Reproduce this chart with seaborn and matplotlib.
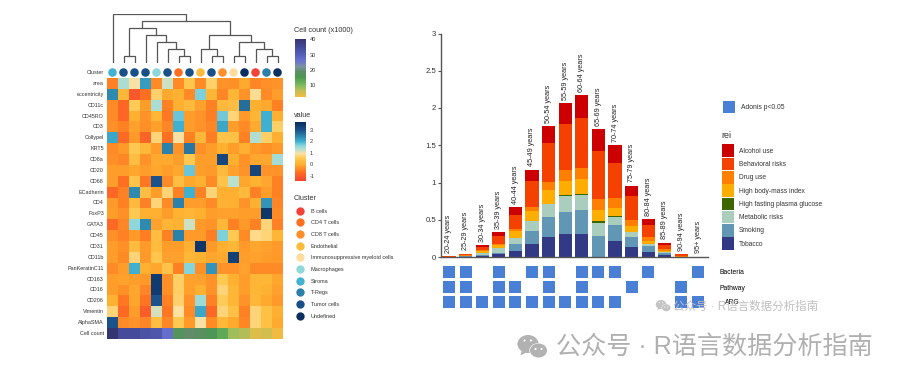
import numpy as np
import pandas as pd
import seaborn as sns
import matplotlib.pyplot as plt
from matplotlib.cm import ScalarMappable
from matplotlib.colors import LinearSegmentedColormap, Normalize
from matplotlib.lines import Line2D
from matplotlib.patches import Ellipse, Patch, Polygon

# heatmap data
markers = ['area', 'eccentricity', 'CD11c', 'CD45RO', 'CD3', 'Collypel', 'KRT5', 'CD8a', 'CD20',
           'CD68', 'ECadherin', 'CD4', 'FoxP3', 'GATA3', 'CD45', 'CD31', 'CD11b', 'PanKeratinC11',
           'CD163', 'CD16', 'CD206', 'Vimentin', 'AlphaSMA']
heat_values = [
    [-0.5, 1.4, 0.95, 2.2, -0.4, 1.2, -0.4, 0.45, -0.4, 0.65, -0.3, -0.35, -0.05, -0.45, -0.35, -0.3],
    [2.4, 0.15, -1.1, -0.7, 0.65, -0.05, 0.05, -0.4, 1.7, 0.1, -0.45, 0.1, -0.3, 0.85, -0.4, -0.2],
    [-0.4, -0.85, 0.55, -0.2, 1.4, -0.5, 0, 0.2, -0.15, -0.5, 0.2, 0.3, 2.7, 0, -0.05, -0.5],
    [-0.4, -0.85, 0, -0.3, 0.1, -0.6, 1.8, -0.2, -0.3, -0.55, 1.75, 0.7, -0.25, 0.1, 2, 0],
    [-0.35, -0.5, -0.15, -0.35, -0.15, -0.45, 2, -0.2, -0.3, -0.45, 2.1, -0.2, -0.4, -0.05, 2, 0.6],
    [2.1, -0.8, -0.25, -0.9, 0.7, -0.7, 0.95, -0.5, 0.15, -0.55, 0.4, 0.35, -0.5, 1.35, 0.6, 0],
    [-0.4, -0.25, 0.5, 0.15, -0.2, 2.5, -0.3, 2.6, -0.35, -0.2, 0, -0.2, 0, -0.25, -0.35, -0.25],
    [-0.35, -0.45, 0.3, -0.3, -0.05, -0.05, -0.2, 0.5, -0.2, -0.2, 3.2, 0, -0.3, -0.1, -0.1, 1.45],
    [-0.2, -0.2, -0.1, -0.2, -0.1, -0.2, -0.1, 1.8, -0.2, -0.25, 0.2, -0.15, -0.3, 3.2, -0.3, -0.3],
    [-0.2, -0.7, 0.4, -0.6, 3, -0.4, 0.3, -0.1, 0, -0.4, 0.4, 1.3, -0.1, 0.05, -0.1, -0.5],
    [-0.85, -0.5, 2.4, 0.3, -0.2, 0.7, -0.5, 2, -0.5, 0.7, 0, 0, 0.2, -0.5, -0.2, -0.5],
    [-0.25, -0.5, 0.2, -0.5, 0.7, -0.4, 2.5, -0.2, -0.2, -0.4, 0.05, 0, -0.3, 0, 2.3, -0.45],
    [-0.2, -0.35, 0.5, 0, 0, -0.2, 0.05, 0.1, 0, -0.2, -0.15, -0.15, -0.2, -0.2, 3.5, -0.4],
    [-0.8, -0.45, 1.6, 2.4, -0.15, 0.1, 0.05, 1.2, -0.25, -0.3, 0.15, -0.5, -0.25, -0.5, 0.7, -0.5],
    [-0.35, -0.5, -0.25, -0.55, 0.3, -0.5, 2.5, -0.25, -0.25, -0.55, 1.7, 0.5, -0.4, 0.8, 0.7, 0.1],
    [-0.2, -0.35, 0.25, -0.25, 0.25, -0.2, -0.2, 0, 3.5, -0.25, 0, 0.15, -0.25, -0.1, -0.15, -0.25],
    [-0.2, -0.4, 0.7, -0.25, 0.45, -0.15, -0.15, 0.15, 0.05, -0.1, -0.05, 3.3, -0.2, -0.15, -0.2, -0.25],
    [-0.4, -0.2, 2, 0, -0.1, 0.4, -0.5, 1.65, -0.35, 2.3, -0.3, -0.3, -0.15, -0.4, -0.4, -0.4],
    [-0.2, -0.15, -0.2, -0.25, 3.4, -0.35, 0.6, -0.15, -0.15, -0.3, 0.5, 0, -0.2, 0.1, 0.1, -0.1],
    [-0.2, -0.35, -0.1, -0.45, 3.4, -0.35, 0.6, -0.15, 0, -0.3, 0.7, 0.1, -0.2, 0.1, 0.05, -0.15],
    [0.05, -0.6, -0.1, -0.65, 3, -0.5, 0.65, -0.3, 1.5, -0.5, 0.55, 0.1, -0.3, 0.15, -0.05, -0.25],
    [0.7, -0.8, -0.2, -1, 1.15, -0.6, 0.9, -0.4, 2.1, -0.85, 0.7, 0.35, -0.5, 0.7, 0.35, 0],
    [3, -0.4, -0.3, -0.45, 0.3, -0.45, 0.5, -0.25, 0.95, -0.4, 0.15, -0.05, -0.45, 0.7, 0.35, -0.05],
]
cell_counts = [40, 35, 35, 33, 32, 27, 17, 19, 18, 16, 13, 8, 7, 4, 5, 2.5]

cluster_names = ['B cells', 'CD4 T cells', 'CD8 T cells', 'Endothelial', 'Immunosuppressive myeloid cells',
                 'Macrophages', 'Stroma', 'T-Regs', 'Tumor cells', 'Undefined']
cluster_colors = ['#F44336', '#FF6F20', '#FF8F2B', '#FFBB3B', '#FFDD9E',
                  '#8ED8DC', '#42B2D2', '#2A80A8', '#1A5088', '#0B2F60']
column_clusters = ['Stroma', 'Tumor cells', 'Tumor cells', 'Tumor cells', 'Macrophages', 'Tumor cells',
                   'CD4 T cells', 'Tumor cells', 'Endothelial', 'Tumor cells', 'CD8 T cells',
                   'Immunosuppressive myeloid cells', 'Undefined', 'B cells', 'T-Regs', 'Undefined']

# dendrogram as (height, left, right), leaves are column numbers
tree = (148, 0, (128,
                 (105, (22, 1, 2), (85, 3, (63, 4, (42, 5, (22, 6, 7))))),
                 (85, (42, 8, (22, 9, 10)), (63, (22, 11, 12), (42, 13, (22, 14, 15))))))

# stacked bars
ages = ['20-24', '25-29', '30-34', '35-39', '40-44', '45-49', '50-54', '55-59', '60-64', '65-69',
        '70-74', '75-79', '80-84', '85-89', '90-94', '95+']
alcohol = [.002, .008, .025, .053, .10, .157, .228, .277, .304, .30, .237, .143, .072, .027, .002, .001]
behavioral = [.006, .012, .03, .102, .19, .345, .523, .626, .667, .635, .479, .313, .17, .063, .024, .002]
drug = [.001, .005, .02, .023, .025, .058, .103, .148, .157, .157, .125, .09, .054, .018, .004, .001]
body_mass = [.001, .005, .03, .037, .095, .134, .188, .188, .192, .148, .112, .072, .031, .018, .002, 0]
fasting = [0, 0, 0, 0, 0, 0, 0, .012, .018, .018, .018, 0, 0, 0, 0, 0]
metabolic = [0, .005, .025, .062, .085, .134, .183, .21, .20, .175, .107, .076, .036, .013, .002, .001]
smoking = [0, .005, .013, .023, .095, .17, .268, .30, .318, .286, .215, .134, .076, .027, .001, .001]
tobacco = [0, .005, .012, .035, .08, .175, .264, .304, .313, 0, .21, .13, .067, .027, .001, 0]
rei_names = ['Alcohol use', 'Behavioral risks', 'Drug use', 'High body-mass index',
             'High fasting plasma glucose', 'Metabolic risks', 'Smoking', 'Tobacco']
rei_colors = ['#CC0000', '#F44100', '#FF8000', '#FFAE00', '#3E6600', '#A9CEBD', '#6296B5', '#333A85']

strip_rows = ['Bacteria', 'Pathway', 'ARG']
bacteria_hits = [0, 1, 3, 5, 6, 8, 9, 10, 12, 15]
pathway_hits = [0, 1, 3, 4, 6, 8, 11, 14]
arg_hits = [0, 1, 2, 3, 4, 5, 6, 7, 8, 9, 10, 14, 15]

sns.set_theme(style='white')
plt.rcParams['font.family'] = ['Liberation Sans', 'Noto Sans CJK SC', 'DejaVu Sans']
plt.rcParams['axes.unicode_minus'] = False
TEXT = '#333333'
BLUE = '#4A7FD6'

value_cmap = LinearSegmentedColormap.from_list('value', [
    (0.0, '#F44336'), (0.15, '#FF7020'), (0.283, '#FFB030'), (0.38, '#FFC850'), (0.46, '#FFE0A0'),
    (0.535, '#B8E0D0'), (0.6, '#8AD6DC'), (0.67, '#40B0D0'), (0.77, '#2A80A8'), (0.87, '#1A5088'),
    (1.0, '#0A2C5C')])
count_cmap = LinearSegmentedColormap.from_list('count', [
    (0.0, '#F5BB3F'), (0.1, '#C4BE55'), (0.205, '#7CBB60'), (0.34, '#4A9950'), (0.44, '#5F8C68'),
    (0.52, '#7B93A0'), (0.63, '#6A72D0'), (0.73, '#5560B8'), (0.865, '#454A98'), (1.0, '#35356F')])
value_norm = Normalize(-1.46, 3.7)
count_norm = Normalize(2.2, 40.2)

fig = plt.figure(figsize=(9, 3.83), dpi=100)


def px_axes(x0, y0, x1, y1):
    return fig.add_axes([x0 / 900, 1 - y1 / 383, (x1 - x0) / 900, (y1 - y0) / 383])


# ---- left panel
ax_tree = px_axes(107, 14, 283, 63)


def draw_tree(node):
    if not isinstance(node, tuple):
        return node + 0.5, 0
    h, left, right = node
    x1, h1 = draw_tree(left)
    x2, h2 = draw_tree(right)
    ax_tree.plot([x1, x1, x2, x2], [h1, h, h, h2], color='#555555', lw=0.9, solid_joinstyle='miter')
    return (x1 + x2) / 2, h


draw_tree(tree)
ax_tree.set_xlim(0, 16)
ax_tree.set_ylim(0, 148)
ax_tree.axis('off')

ax_dots = px_axes(107, 67, 283, 78)
sns.scatterplot(x=np.arange(16) + 0.5, y=np.zeros(16), hue=column_clusters, hue_order=cluster_names,
                palette=cluster_colors, s=38, linewidth=0, legend=False, ax=ax_dots)
ax_dots.set_xlim(0, 16)
ax_dots.set_ylim(-1, 1)
ax_dots.set_xticks([])
ax_dots.set_yticks([0], ['Cluster'])

ax_heat = px_axes(107, 78, 283, 328)
sns.heatmap(pd.DataFrame(heat_values, index=markers), cmap=value_cmap, norm=value_norm, cbar=False,
            xticklabels=False, yticklabels=True, ax=ax_heat)

ax_count = px_axes(107, 328, 283, 339)
sns.heatmap(pd.DataFrame([cell_counts], index=['Cell count']), cmap=count_cmap, norm=count_norm, cbar=False,
            xticklabels=False, yticklabels=True, ax=ax_count)

for ax in (ax_dots, ax_heat, ax_count):
    ax.tick_params(axis='y', length=0, pad=2.2, labelsize=3.9, labelcolor=TEXT, rotation=0)
    ax.set_xlabel('')
    ax.set_ylabel('')
    for s in ax.spines.values():
        s.set_visible(False)

# colour bars
cax1 = px_axes(294.5, 39, 306, 97)
cb1 = fig.colorbar(ScalarMappable(count_norm, count_cmap), cax=cax1, ticks=[10, 20, 30, 40])
cax2 = px_axes(294.5, 122, 306, 181)
cb2 = fig.colorbar(ScalarMappable(value_norm, value_cmap), cax=cax2, ticks=[-1, 0, 1, 2, 3])
for cb in (cb1, cb2):
    cb.outline.set_visible(False)
    cb.ax.tick_params(length=0, pad=2.8, labelsize=4, labelcolor=TEXT)

cluster_handles = [Line2D([], [], ls='', marker='o', ms=6, mew=0, color=c) for c in cluster_colors]
fig.legend(cluster_handles, cluster_names, loc='upper left', bbox_to_anchor=(293 / 900, 1 - 206.5 / 383),
           frameon=False, fontsize=4, labelspacing=1.2, handlelength=1.6, handletextpad=1.2,
           borderpad=0.4, borderaxespad=0, labelcolor=TEXT)

# ---- right panel
bars = pd.DataFrame(dict(zip(rei_names, [alcohol, behavioral, drug, body_mass, fasting, metabolic, smoking, tobacco])))
bars['age'] = ages
long_bars = bars.melt(id_vars='age', var_name='rei', value_name='value')

ax_bar = px_axes(441, 33.5, 708, 257)
sns.histplot(long_bars, x='age', weights='value', hue='rei', hue_order=rei_names, palette=rei_colors,
             multiple='stack', discrete=True, shrink=0.8, alpha=1, linewidth=0, legend=False, ax=ax_bar)
ax_bar.set_xlim(-0.48, 15.6)
ax_bar.set_ylim(0, 3)
ax_bar.set_yticks([0, 0.5, 1, 1.5, 2, 2.5, 3], ['0', '0.5', '1', '1.5', '2', '2.5', '3'])
ax_bar.set_xticks([])
ax_bar.set_xlabel('')
ax_bar.set_ylabel('')
ax_bar.tick_params(axis='y', left=True, length=2, width=0.8, color='#555555', pad=1.5, labelsize=5.6, labelcolor=TEXT)
ax_bar.patch.set_alpha(0)
sns.despine(ax=ax_bar)
for s in ['left', 'bottom']:
    ax_bar.spines[s].set_color('#555555')
    ax_bar.spines[s].set_linewidth(1)

totals = bars[rei_names].sum(axis=1).values
for i, age in enumerate(ages):
    ax_bar.text(i, totals[i] + 0.045, age + ' years', rotation=90, ha='center', va='bottom', fontsize=5.2, color='#222222')

ax_strip = px_axes(441, 264.5, 708, 309.5)
strip = pd.DataFrame({
    'age': bacteria_hits + pathway_hits + arg_hits,
    'row': ['Bacteria'] * len(bacteria_hits) + ['Pathway'] * len(pathway_hits) + ['ARG'] * len(arg_hits)})
sns.scatterplot(strip, x='age', y='row', marker='s', s=74, color=BLUE, linewidth=0, ax=ax_strip)
ax_strip.set_xlim(-0.48, 15.6)
ax_strip.set_ylim(2.5, -0.5)
ax_strip.axis('off')

fig.legend([Patch(color=c, lw=0) for c in rei_colors], rei_names, loc='upper left',
           bbox_to_anchor=(719 / 900, 1 - 141.7 / 383), frameon=False, fontsize=4.8, labelspacing=0.09,
           handlelength=1.8, handleheight=2.55, handletextpad=0.75, borderpad=0.4, borderaxespad=0, labelcolor=TEXT)
fig.legend([Patch(color=BLUE, lw=0)], ['Adonis p<0.05'], loc='center left', bbox_to_anchor=(720 / 900, 1 - 107 / 383),
           frameon=False, fontsize=4.85, handlelength=1.8, handleheight=2.55, handletextpad=0.9,
           borderpad=0.4, borderaxespad=0, labelcolor=TEXT)

# ---- overlay in pixel coordinates: titles, strip labels and the watermark
over = fig.add_axes([0, 0, 1, 1], zorder=10)
over.set_xlim(0, 900)
over.set_ylim(383, 0)
over.axis('off')
over.patch.set_alpha(0)
over.text(294, 31, 'Cell count (x1000)', fontsize=5.2, color=TEXT, va='center')
over.text(294, 115.5, 'value', fontsize=5.2, color=TEXT, va='center')
over.text(294, 198.5, 'Cluster', fontsize=5.2, color=TEXT, va='center')
over.text(721, 136, 'rei', fontsize=6.4, color=TEXT, va='center')
for label, yy in zip(strip_rows, [272, 288, 303]):
    over.text(732, yy, label, fontsize=4.85, color='black', ha='center', va='center')


def wechat(x, y, r, col):
    over.add_patch(Ellipse((x + r * 0.0, y), 2.1 * r, 1.8 * r, color=col, lw=0))
    over.add_patch(Polygon([(x - 0.6 * r, y + 0.6 * r), (x - 0.75 * r, y + 1.15 * r), (x - 0.1 * r, y + 0.8 * r)], color=col, lw=0))
    over.add_patch(Ellipse((x + 1.05 * r, y + 0.65 * r), 1.8 * r + 0.3, 1.5 * r, color='white', lw=0))
    over.add_patch(Ellipse((x + 1.05 * r, y + 0.65 * r), 1.7 * r, 1.4 * r, color=col, lw=0))
    for dx, dy in [(-0.35, -0.35), (0.3, -0.35), (0.75, 0.5), (1.35, 0.5)]:
        over.add_patch(Ellipse((x + dx * r, y + dy * r), 0.22 * r, 0.22 * r, color='white', lw=0))


wechat(528, 344, 10, '#B2B2B2')
wechat(661, 304.5, 5, '#C4C4C4')
over.text(556, 347, '公众号 · R语言数据分析指南', fontsize=18.1, color='#B0B0B0', va='center')
over.text(673, 307, '公众号 · R语言数据分析指南', fontsize=8.3, color='#C0C0C0', va='center')

fig.savefig('out.png', dpi=100, facecolor='white')
